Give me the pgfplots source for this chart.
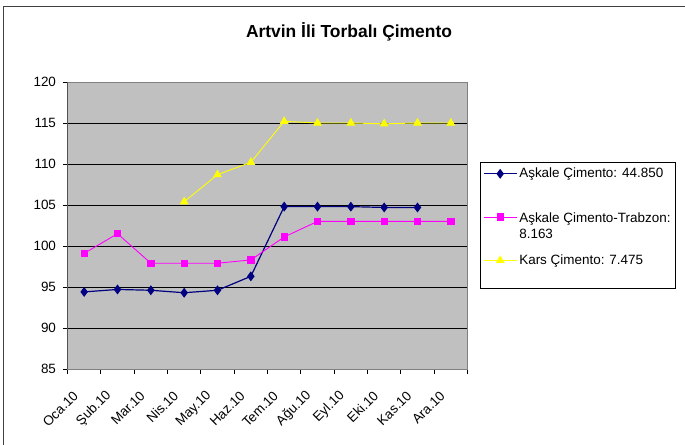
\documentclass[border=0pt]{standalone}
\usepackage{fontspec}
\setmainfont{Liberation Sans}
\usepackage{pgfplots}
\pgfplotsset{compat=1.18}

\definecolor{navyline}{RGB}{0,0,128}
\definecolor{pinkline}{RGB}{255,0,255}
\definecolor{yellowline}{RGB}{255,255,0}
\definecolor{plotbg}{RGB}{192,192,192}
\definecolor{framegray}{RGB}{64,64,64}

\begin{document}
\begin{tikzpicture}[x=1bp,y=1bp]
\path[use as bounding box] (0,0) rectangle (685,445);
% outer chart frame (only top and left visible)
\draw[framegray, line width=1.6bp] (3.5,0) -- (3.5,438.5) -- (690,438.5);
\node[font=\bfseries\fontsize{17.5}{20}\selectfont] at (349,413) {Artvin İli Torbalı Çimento};

\begin{axis}[
    at={(67.5bp,76bp)}, anchor=south west,
    scale only axis,
    width=400bp, height=287bp,
    xmin=-0.5, xmax=11.5,
    ymin=85, ymax=120,
    ytick={85,90,...,120},
    xtick={-0.5,0.5,...,11.5},
    x tick label as interval,
    xticklabels={Oca.10,Şub.10,Mar.10,Nis.10,May.10,Haz.10,Tem.10,Ağu.10,Eyl.10,Eki.10,Kas.10,Ara.10},
    x tick label style={xshift=-6bp, yshift=-17bp, rotate=45, anchor=east, font=\fontsize{13.5}{16}\selectfont},
    y tick label style={xshift=-3bp, font=\fontsize{13.5}{16}\selectfont},
    /pgf/number format/assume math mode=true,
    tick align=outside,
    major tick length=5bp,
    tick style={black, line width=0.8bp},
    xtick pos=bottom, ytick pos=left,
    ymajorgrids,
    major grid style={black, line width=0.8bp},
    axis background/.style={fill=plotbg},
    axis line style={draw=gray, line width=0.8bp},
    legend style={at={(1.031,0.7213)}, anchor=north west, draw=black, fill=white,
        font=\fontsize{13.5}{16}\selectfont, inner xsep=3bp, inner ysep=4bp,
        row sep=11bp, cells={align=left}},
    legend cell align=left,
    legend image code/.code={\draw[mark repeat=2,mark phase=2,#1] plot coordinates {(0bp,0bp) (16.5bp,0bp) (33bp,0bp)};},
]
\addplot[navyline, line width=1.2bp, mark=diamond*, mark size=4bp, mark options={fill=navyline}]
coordinates {(0,94.4) (1,94.7) (2,94.6) (3,94.3) (4,94.6) (5,96.3) (6,104.8) (7,104.8) (8,104.8) (9,104.7) (10,104.7)};
\addlegendentry{Aşkale Çimento: 44.850}
\addplot[pinkline, line width=0.9bp, mark=square*, mark size=3.2bp, mark options={fill=pinkline}]
coordinates {(0,99.1) (1,101.5) (2,97.9) (3,97.9) (4,97.9) (5,98.3) (6,101.1) (7,103.0) (8,103.0) (9,103.0) (10,103.0) (11,103.0)};
\addlegendentry{\rule{0pt}{28bp}Aşkale Çimento-Trabzon:\\8.163}
\addplot[yellowline, line width=0.9bp, mark=triangle*, mark size=4.2bp, mark options={fill=yellowline}]
coordinates {(3,105.4) (4,108.7) (5,110.2) (6,115.2) (7,115.0) (8,115.0) (9,114.9) (10,115.0) (11,115.0)};
\addlegendentry{Kars Çimento: 7.475}
\addlegendimage{empty legend}
\addlegendentry{\rule{0pt}{0pt}}
\draw[black, line width=0.8bp] (rel axis cs:0,1) -- (rel axis cs:0,0) -- (rel axis cs:1,0);
\end{axis}
\end{tikzpicture}
\end{document}
